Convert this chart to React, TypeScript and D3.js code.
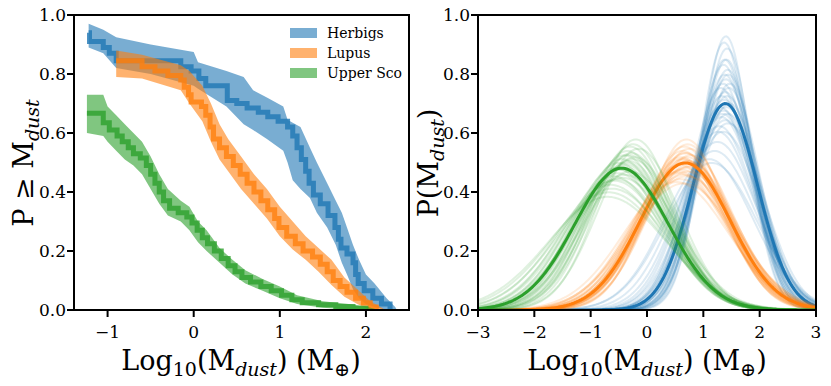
import React from "react";
import * as d3 from "d3";

const W = 831;
const H = 386;
const FONT = "'DejaVu Serif', serif";

const BLUE = "#1f77b4";
const ORANGE = "#ff7f0e";
const GREEN = "#2ca02c";

const legendNames = ["Herbigs", "Lupus", "Upper Sco"];

// left panel: cumulative P >= M, [log10 Mdust, P]
const herbigsSteps = [
  [-1.22, 0.94], [-1.21, 0.91], [-1.05, 0.89], [-0.98, 0.87], [-0.9, 0.845],
  [-0.15, 0.825], [-0.03, 0.81], [0.06, 0.785], [0.14, 0.76], [0.39, 0.71],
  [0.5, 0.7], [0.62, 0.685], [0.75, 0.67], [0.86, 0.655], [0.98, 0.64],
  [1.09, 0.62], [1.15, 0.59], [1.2, 0.55], [1.25, 0.51], [1.3, 0.47],
  [1.34, 0.43], [1.39, 0.39], [1.47, 0.36], [1.56, 0.32], [1.64, 0.28],
  [1.68, 0.24], [1.71, 0.21], [1.78, 0.19], [1.85, 0.16], [1.88, 0.12],
  [1.91, 0.09], [1.98, 0.065], [2.08, 0.04], [2.18, 0.02], [2.28, 0.0],
];
// [log10 Mdust, lower, upper]
const herbigsBand = [
  [-1.22, 0.89, 0.97], [-1.05, 0.87, 0.95], [-0.9, 0.82, 0.925], [-0.5, 0.8, 0.9],
  [0.0, 0.76, 0.875], [0.05, 0.75, 0.84], [0.38, 0.69, 0.81], [0.58, 0.63, 0.79],
  [0.69, 0.61, 0.745], [0.85, 0.58, 0.72], [1.04, 0.54, 0.69], [1.09, 0.5, 0.645],
  [1.15, 0.44, 0.635], [1.24, 0.41, 0.62], [1.35, 0.38, 0.55], [1.43, 0.33, 0.5],
  [1.55, 0.28, 0.43], [1.65, 0.22, 0.37], [1.72, 0.16, 0.33], [1.78, 0.12, 0.28],
  [1.85, 0.07, 0.22], [1.92, 0.04, 0.17], [2.0, 0.02, 0.12], [2.1, 0.01, 0.09],
  [2.24, 0.0, 0.04], [2.34, 0.0, 0.01], [2.36, 0.0, 0.0],
];

const lupusSteps = [
  [-0.9, 0.845], [-0.6, 0.825], [-0.45, 0.81], [-0.3, 0.795], [-0.15, 0.78],
  [-0.11, 0.755], [-0.06, 0.73], [-0.03, 0.705], [0.09, 0.69], [0.14, 0.66],
  [0.19, 0.62], [0.23, 0.58], [0.3, 0.55], [0.38, 0.52], [0.46, 0.49],
  [0.54, 0.46], [0.62, 0.43], [0.7, 0.4], [0.78, 0.37], [0.86, 0.34],
  [0.94, 0.31], [0.99, 0.28], [1.08, 0.25], [1.18, 0.225], [1.27, 0.2],
  [1.38, 0.18], [1.47, 0.155], [1.55, 0.13], [1.62, 0.1], [1.7, 0.08],
  [1.78, 0.06], [1.88, 0.04], [1.97, 0.025], [2.05, 0.01], [2.12, 0.0],
];
const lupusBand = [
  [-0.9, 0.79, 0.88], [-0.6, 0.785, 0.865], [-0.15, 0.745, 0.83], [-0.05, 0.7, 0.81],
  [0.1, 0.64, 0.76], [0.2, 0.57, 0.7], [0.3, 0.51, 0.63], [0.4, 0.47, 0.58],
  [0.55, 0.41, 0.52], [0.7, 0.36, 0.46], [0.85, 0.31, 0.41], [1.0, 0.25, 0.35],
  [1.15, 0.205, 0.3], [1.3, 0.17, 0.25], [1.45, 0.13, 0.21], [1.6, 0.085, 0.17],
  [1.75, 0.045, 0.11], [1.9, 0.02, 0.07], [2.05, 0.0, 0.03], [2.2, 0.0, 0.005],
];

const uscoSteps = [
  [-1.24, 0.667], [-1.05, 0.635], [-0.98, 0.61], [-0.89, 0.59], [-0.83, 0.57],
  [-0.76, 0.55], [-0.7, 0.53], [-0.62, 0.515], [-0.55, 0.49], [-0.5, 0.46],
  [-0.45, 0.43], [-0.4, 0.4], [-0.35, 0.37], [-0.28, 0.345], [-0.18, 0.33],
  [-0.08, 0.315], [-0.02, 0.295], [0.04, 0.27], [0.1, 0.245], [0.16, 0.225],
  [0.24, 0.2], [0.32, 0.175], [0.4, 0.15], [0.48, 0.13], [0.56, 0.11],
  [0.66, 0.095], [0.78, 0.08], [0.9, 0.065], [1.02, 0.05], [1.14, 0.035],
  [1.26, 0.025], [1.45, 0.018], [1.65, 0.012], [1.85, 0.006], [2.0, 0.0],
];
const uscoBand = [
  [-1.24, 0.6, 0.73], [-1.05, 0.59, 0.73], [-1.0, 0.57, 0.69], [-0.9, 0.54, 0.66],
  [-0.8, 0.51, 0.63], [-0.7, 0.49, 0.6], [-0.6, 0.46, 0.57], [-0.5, 0.41, 0.52],
  [-0.4, 0.36, 0.46], [-0.3, 0.32, 0.41], [-0.15, 0.3, 0.37], [-0.05, 0.27, 0.35],
  [0.05, 0.23, 0.3], [0.15, 0.2, 0.27], [0.3, 0.16, 0.21], [0.45, 0.12, 0.17],
  [0.6, 0.09, 0.135], [0.8, 0.065, 0.105], [1.0, 0.04, 0.08], [1.2, 0.02, 0.05],
  [1.5, 0.008, 0.03], [1.8, 0.002, 0.02], [2.0, 0.0, 0.012], [2.15, 0.0, 0.0],
];

// right panel: fitted log-normal [mu, sigma] per bootstrap draw, and the best fit
const herbigsFits = [
  [1.4, 0.43], [1.42, 0.45], [1.38, 0.47], [1.36, 0.48], [1.44, 0.5], [1.4, 0.51],
  [1.35, 0.52], [1.45, 0.53], [1.39, 0.54], [1.33, 0.55], [1.42, 0.55], [1.37, 0.56],
  [1.46, 0.57], [1.3, 0.58], [1.41, 0.58], [1.36, 0.59], [1.43, 0.6], [1.32, 0.61],
  [1.39, 0.62], [1.28, 0.64], [1.44, 0.63], [1.35, 0.66], [1.25, 0.7], [1.2, 0.74],
  [1.1, 0.78], [1.15, 0.8], [1.38, 0.5], [1.41, 0.47], [1.34, 0.6], [1.47, 0.52],
  [1.37, 0.44], [1.43, 0.49], [1.31, 0.53], [1.4, 0.57], [1.26, 0.66],
];
const herbigsBest = [1.39, 0.57];

const lupusFits = [
  [0.7, 0.69], [0.72, 0.71], [0.66, 0.72], [0.75, 0.73], [0.63, 0.74], [0.69, 0.75],
  [0.78, 0.76], [0.6, 0.77], [0.71, 0.77], [0.67, 0.78], [0.74, 0.79], [0.64, 0.8],
  [0.7, 0.8], [0.58, 0.81], [0.76, 0.82], [0.68, 0.83], [0.62, 0.84], [0.73, 0.85],
  [0.55, 0.86], [0.66, 0.87], [0.71, 0.88], [0.6, 0.9], [0.52, 0.92], [0.65, 0.93],
  [0.69, 0.79], [0.61, 0.78], [0.77, 0.8], [0.67, 0.75], [0.73, 0.82], [0.57, 0.85],
];
const lupusBest = [0.68, 0.8];

const uscoFits = [
  [-0.2, 0.69], [-0.25, 0.71], [-0.3, 0.72], [-0.15, 0.73], [-0.35, 0.74], [-0.28, 0.75],
  [-0.4, 0.76], [-0.22, 0.77], [-0.45, 0.78], [-0.33, 0.79], [-0.5, 0.8], [-0.38, 0.81],
  [-0.42, 0.82], [-0.55, 0.83], [-0.47, 0.84], [-0.3, 0.85], [-0.52, 0.86], [-0.6, 0.88],
  [-0.44, 0.89], [-0.58, 0.91], [-0.65, 0.94], [-0.62, 0.97], [-0.68, 1.0], [-0.7, 1.04],
  [-0.36, 0.8], [-0.48, 0.83], [-0.26, 0.78], [-0.4, 0.87], [-0.54, 0.9], [-0.32, 0.76],
];
const uscoBest = [-0.45, 0.83];

const xTicksLeft = [-1, 0, 1, 2];
const xTicksRight = [-3, -2, -1, 0, 1, 2, 3];
const yTicks = [0, 0.2, 0.4, 0.6, 0.8, 1.0];

const fmtX = (v: number) => (v < 0 ? "\u2212" + Math.abs(v) : String(v));

const yScale = d3.scaleLinear().domain([0, 1]).range([310, 15]);
const xLeft = d3.scaleLinear().domain([-1.39, 2.5]).range([74, 409]);
const xRight = d3.scaleLinear().domain([-3, 3]).range([478, 816]);

const gridX = d3.range(-3, 3.0001, 0.03);
const gauss = (mu: number, s: number) =>
  gridX.map((x) => [x, Math.exp(-0.5 * ((x - mu) / s) ** 2) / (s * Math.sqrt(2 * Math.PI))]);

function Axes({ x, xTicks }: { x: any; xTicks: number[] }) {
  const [x0, x1] = x.range();
  const [y0, y1] = [yScale(1), yScale(0)];
  return (
    <g>
      <rect x={x0} y={y0} width={x1 - x0} height={y1 - y0} fill="none" stroke="#000" strokeWidth={2} />
      {xTicks.map((t) => (
        <g key={"x" + t}>
          <line x1={x(t)} x2={x(t)} y1={y1} y2={y1 + 7} stroke="#000" strokeWidth={2} />
          <text x={x(t)} y={y1 + 28} textAnchor="middle" fontSize={17} fontFamily={FONT}>
            {fmtX(t)}
          </text>
        </g>
      ))}
      {yTicks.map((t) => (
        <g key={"y" + t}>
          <line x1={x0 - 7} x2={x0} y1={yScale(t)} y2={yScale(t)} stroke="#000" strokeWidth={2} />
          <text x={x0 - 8} y={yScale(t)} dy="0.35em" textAnchor="end" fontSize={17} fontFamily={FONT}>
            {t.toFixed(1)}
          </text>
        </g>
      ))}
    </g>
  );
}

function XLabel({ cx }: { cx: number }) {
  return (
    <text x={cx} y={370} textAnchor="middle" fontSize={27} fontFamily={FONT}>
      Log
      <tspan fontSize={19} dy={6}>10</tspan>
      <tspan dy={-6}>(M</tspan>
      <tspan fontSize={19} fontStyle="italic" dy={6}>dust</tspan>
      <tspan dy={-6}>) (M</tspan>
      <tspan fontSize={19} dy={6}>⊕</tspan>
      <tspan dy={-6}>)</tspan>
    </text>
  );
}

export default function App() {
  const stepLine = d3
    .line<number[]>()
    .x((d) => xLeft(d[0]))
    .y((d) => yScale(d[1]))
    .curve(d3.curveStepAfter);
  const band = d3
    .area<number[]>()
    .x((d) => xLeft(d[0]))
    .y0((d) => yScale(d[1]))
    .y1((d) => yScale(d[2]));
  const pdfLine = d3
    .line<number[]>()
    .x((d) => xRight(d[0]))
    .y((d) => yScale(d[1]));

  const left = [
    { steps: herbigsSteps, band: herbigsBand, color: BLUE },
    { steps: lupusSteps, band: lupusBand, color: ORANGE },
    { steps: uscoSteps, band: uscoBand, color: GREEN },
  ];
  const right = [
    { fits: herbigsFits, best: herbigsBest, color: BLUE },
    { fits: lupusFits, best: lupusBest, color: ORANGE },
    { fits: uscoFits, best: uscoBest, color: GREEN },
  ];

  return (
    <svg width={W} height={H} style={{ position: "absolute", left: 0, top: 0, background: "#fff" }}>
      <defs>
        <clipPath id="clipL">
          <rect x={74} y={15} width={335} height={295} />
        </clipPath>
        <clipPath id="clipR">
          <rect x={478} y={15} width={338} height={295} />
        </clipPath>
      </defs>

      <g clipPath="url(#clipL)">
        {left.map((s, i) => (
          <g key={i}>
            <path d={band(s.band) || ""} fill={s.color} fillOpacity={0.6} stroke="none" />
            <path d={stepLine(s.steps) || ""} fill="none" stroke={s.color} strokeOpacity={0.8} strokeWidth={5} />
          </g>
        ))}
      </g>

      <g clipPath="url(#clipR)">
        {right.map((s, i) => (
          <g key={i}>
            {s.fits.map((f, j) => (
              <path key={j} d={pdfLine(gauss(f[0], f[1])) || ""} fill="none" stroke={s.color} strokeOpacity={0.15} strokeWidth={2} />
            ))}
            <path d={pdfLine(gauss(s.best[0], s.best[1])) || ""} fill="none" stroke={s.color} strokeWidth={3} />
          </g>
        ))}
      </g>

      <Axes x={xLeft} xTicks={xTicksLeft} />
      <Axes x={xRight} xTicks={xTicksRight} />

      {legendNames.map((name, i) => (
        <g key={name}>
          <rect x={290} y={28 + i * 20} width={27} height={10} fill={[BLUE, ORANGE, GREEN][i]} fillOpacity={0.6} />
          <text x={327} y={38 + i * 20} fontSize={14} fontFamily={FONT}>
            {name}
          </text>
        </g>
      ))}

      <XLabel cx={241} />
      <XLabel cx={647} />

      <text transform="translate(33,163) rotate(-90)" textAnchor="middle" fontSize={27} fontFamily={FONT}>
        P ≥ M
        <tspan fontSize={19} fontStyle="italic" dy={6}>dust</tspan>
      </text>
      <text transform="translate(438,163) rotate(-90)" textAnchor="middle" fontSize={27} fontFamily={FONT}>
        P(M
        <tspan fontSize={19} fontStyle="italic" dy={6}>dust</tspan>
        <tspan dy={-6}>)</tspan>
      </text>
    </svg>
  );
}
